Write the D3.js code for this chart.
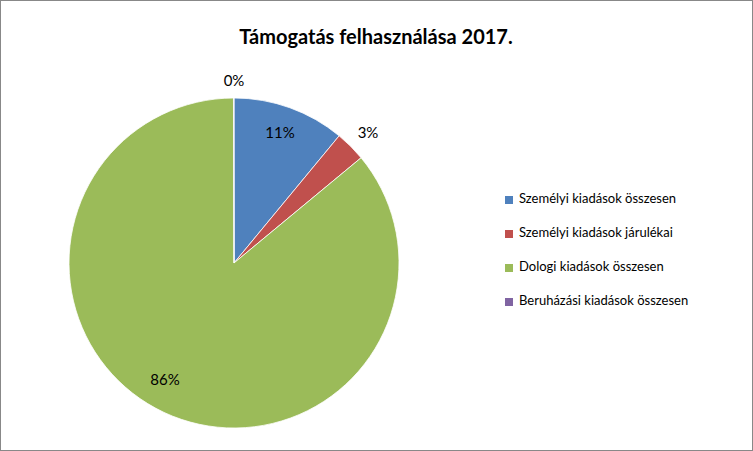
<!DOCTYPE html>
<html><head><meta charset="utf-8">
<script src="https://cdn.jsdelivr.net/npm/d3@7"></script>
<style>body{margin:0;background:#fff}svg{display:block}</style>
</head><body>
<svg id="c" width="753" height="451"></svg>
<script>
const categories = ["Személyi kiadások összesen","Személyi kiadások járulékai","Dologi kiadások összesen","Beruházási kiadások összesen"];
const values = [11, 3, 86, 0.05];
const labels = ["11%","3%","86%","0%"];
const colors = ["#4F81BD","#C0504D","#9BBB59","#8064A2"];
const labelPos = [[280,134],[368,134],[165,381],[234,82]];

const svg = d3.select("#c");
svg.append("rect").attr("x",0.5).attr("y",0.5).attr("width",752).attr("height",450).attr("fill","#fff").attr("stroke","#888");
svg.append("text").attr("x",376).attr("y",44).attr("text-anchor","middle")
  .attr("font-family","Lato, sans-serif").attr("font-weight","bold").attr("font-size",20).text("Támogatás felhasználása 2017.");

const cx=234, cy=263, r=165;
const pie = d3.pie().sort(null).value(d=>d)(values);
const arc = d3.arc().innerRadius(0).outerRadius(r);
const g = svg.append("g").attr("transform",`translate(${cx},${cy})`);
g.selectAll("path").data(pie).join("path").attr("d",arc)
  .attr("fill",(d,i)=>colors[i]).attr("stroke","#fff").attr("stroke-width",0.8);

svg.selectAll("text.lbl").data(labels).join("text").attr("class","lbl")
  .attr("x",(d,i)=>labelPos[i][0]).attr("y",(d,i)=>labelPos[i][1])
  .attr("text-anchor","middle").attr("dominant-baseline","middle")
  .attr("font-family","Lato, sans-serif").attr("font-size",15).text(d=>d);

const lg = svg.append("g");
categories.forEach((c,i)=>{
  const y = 200 + i*34;
  lg.append("rect").attr("x",505).attr("y",y-4).attr("width",8).attr("height",8).attr("fill",colors[i]);
  lg.append("text").attr("x",519).attr("y",y).attr("dominant-baseline","middle")
    .attr("font-family","Lato, sans-serif").attr("font-size",13).text(c);
});
</script>
</body></html>
